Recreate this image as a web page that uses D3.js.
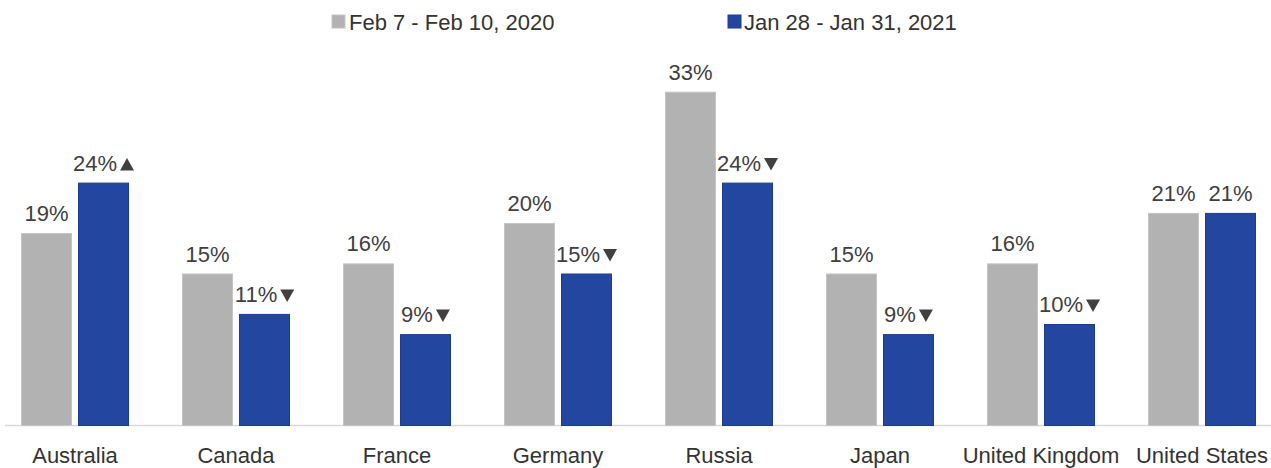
<!DOCTYPE html>
<html>
<head>
<meta charset="utf-8">
<script src="https://cdn.jsdelivr.net/npm/d3@7"></script>
<style>
  html, body { margin: 0; padding: 0; background: #fff; }
  svg { display: block; font-family: "Liberation Sans", Arial, sans-serif; }
</style>
</head>
<body>
<svg id="chart" width="1271" height="468"></svg>
<script>
const categories = ["Australia", "Canada", "France", "Germany", "Russia", "Japan", "United Kingdom", "United States"];
const seriesNames = ["Feb 7 - Feb 10, 2020", "Jan 28 - Jan 31, 2021"];
const values2020 = [19, 15, 16, 20, 33, 15, 16, 21];
const values2021 = [24, 11, 9, 15, 24, 9, 10, 21];
const change2021 = ["up", "down", "down", "down", "down", "down", "down", "none"];
const colors = ["#b2b2b2", "#2346a0"];
const strokes = ["#c4c4c4", "#1d3c8f"];

const svg = d3.select("#chart");
const W = 1271, H = 468;
const baseY = 425.5;

const x0 = d3.scaleBand().domain(categories).range([-5.5, 1282.5]).padding(0);
const x1 = d3.scaleBand().domain(seriesNames).range([26.5, 134.5]).paddingInner(0.1053).paddingOuter(0);
const y = d3.scaleLinear().domain([0, 40]).range([baseY, baseY - 404]);

const rows = categories.map((c, i) => ({
  cat: c,
  vals: [
    { s: seriesNames[0], v: values2020[i], idx: 0, ch: "none" },
    { s: seriesNames[1], v: values2021[i], idx: 1, ch: change2021[i] }
  ]
}));

// axis baseline
svg.append("line")
  .attr("x1", 5).attr("x2", W)
  .attr("y1", baseY).attr("y2", baseY)
  .attr("stroke", "#d9d9d9").attr("stroke-width", 1.5);

const g = svg.selectAll("g.grp").data(rows).join("g")
  .attr("class", "grp")
  .attr("transform", d => `translate(${x0(d.cat)},0)`);

g.selectAll("rect").data(d => d.vals).join("rect")
  .attr("x", d => x1(d.s) + 0.5)
  .attr("width", x1.bandwidth() - 1)
  .attr("y", d => y(d.v))
  .attr("height", d => baseY - y(d.v))
  .attr("fill", d => colors[d.idx])
  .attr("stroke", d => strokes[d.idx])
  .attr("stroke-width", 1);

// value labels
const fs = 22;
g.each(function(d) {
  const grp = d3.select(this);
  d.vals.forEach(v => {
    const cx = x1(v.s) + x1.bandwidth() / 2;
    const by = y(v.v) - 12.5;
    const lab = grp.append("g");
    const t = lab.append("text")
      .attr("y", by)
      .attr("font-size", fs)
      .attr("fill", "#404040")
      .attr("text-anchor", "start")
      .text(v.v + "%");
    const tw = t.node().getComputedTextLength();
    let total = tw;
    const triW = 14, triH = 12.5, gap = 3;
    if (v.ch !== "none") total += gap + triW;
    const sx = cx - total / 2;
    t.attr("x", sx);
    if (v.ch !== "none") {
      const tx = sx + tw + gap;
      const pts = v.ch === "up"
        ? [[tx, by], [tx + triW, by], [tx + triW / 2, by - triH]]
        : [[tx, by - triH], [tx + triW, by - triH], [tx + triW / 2, by]];
      lab.append("path")
        .attr("d", d3.line()(pts) + "Z")
        .attr("fill", "#404040");
    }
  });
});

// category labels
svg.selectAll("text.cat").data(categories).join("text")
  .attr("class", "cat")
  .attr("x", d => x0(d) + x0.bandwidth() / 2)
  .attr("y", 463)
  .attr("text-anchor", "middle")
  .attr("font-size", fs)
  .attr("fill", "#333333")
  .text(d => d);

// legend
const legendPos = [{ sq: 332, tx: 349 }, { sq: 728, tx: 744 }];
const lg = svg.selectAll("g.leg").data(seriesNames).join("g").attr("class", "leg");
lg.append("rect")
  .attr("x", (d, i) => legendPos[i].sq)
  .attr("y", 15)
  .attr("width", 13).attr("height", 13)
  .attr("fill", (d, i) => colors[i])
  .attr("stroke", (d, i) => strokes[i]);
lg.append("text")
  .attr("x", (d, i) => legendPos[i].tx)
  .attr("y", 30)
  .attr("font-size", fs)
  .attr("fill", "#333333")
  .text(d => d);
</script>
</body>
</html>
